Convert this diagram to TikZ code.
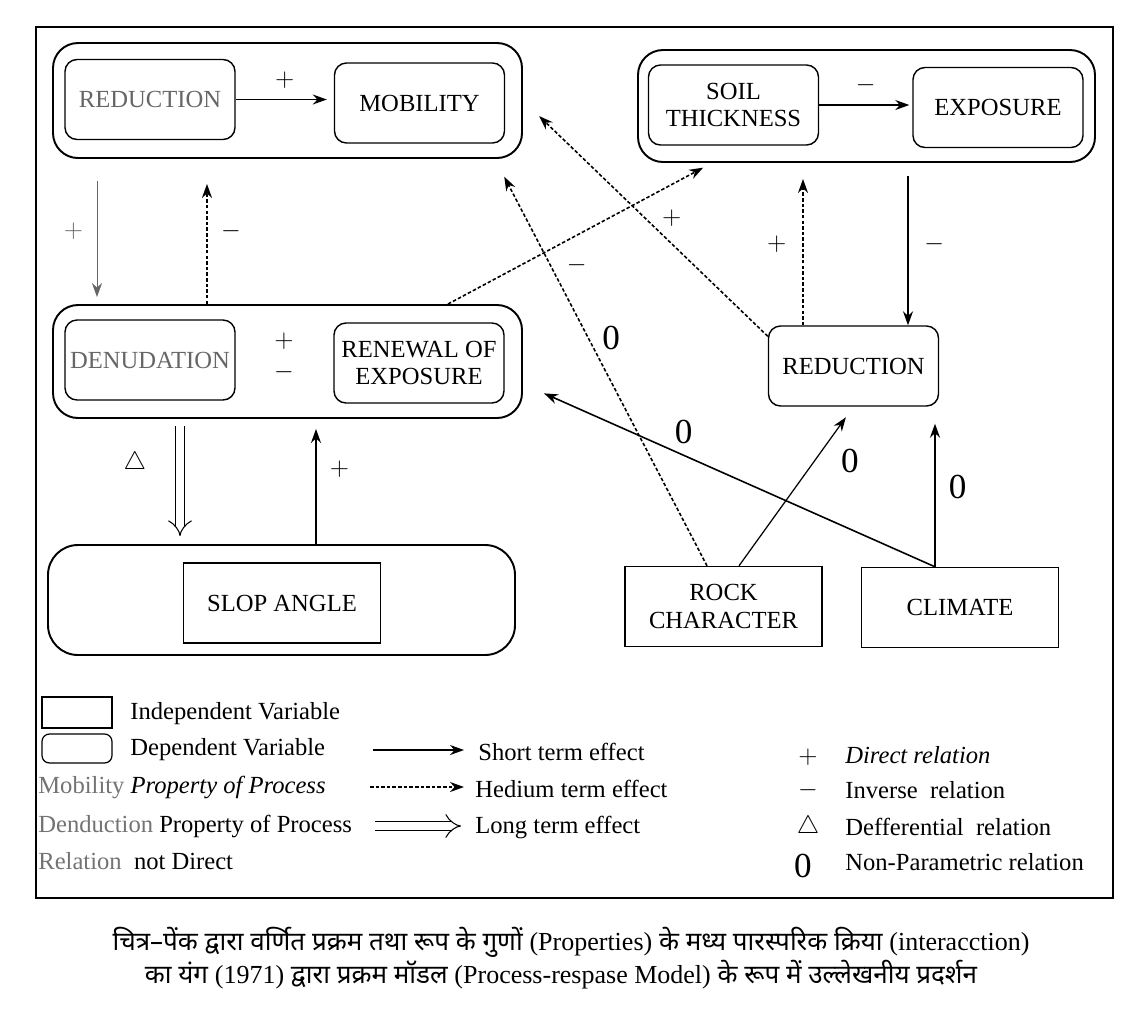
\documentclass[tikz,border=0pt]{standalone}
\usepackage{fontspec}
\setmainfont{Liberation Serif}
\newfontfamily\hindi[Script=Devanagari]{Noto Sans}
\usetikzlibrary{arrows.meta}

\begin{document}
\begin{tikzpicture}[x=0.2mm, y=-0.2mm, font=\fontsize{14}{15.5}\selectfont]
  \useasboundingbox (0,0) rectangle (1137,1008);
  \tikzstyle{group}=[draw, rounded corners=5mm, line width=1.1pt, inner sep=0pt]
  \tikzstyle{var}=[draw, rounded corners=2.4mm, line width=0.8pt, minimum width=34mm, minimum height=16mm, align=center, inner sep=1pt]
  \tikzstyle{indep}=[draw, line width=0.8pt, minimum width=39.4mm, minimum height=16mm, align=center]
  \tikzstyle{faint}=[text=black!60]
  \tikzstyle{shortfx}=[-{Stealth[length=2.8mm,width=2mm]}, line width=0.7pt]
  \tikzstyle{medfx}=[shortfx, dash pattern=on 2pt off 1.2pt, line width=0.9pt]
  \tikzstyle{longfx}=[double, double distance=1.5mm, line width=0.6pt, -{Implies}]
  \tikzstyle{zero}=[font=\fontsize{20}{20}\selectfont]
  \tikzstyle{keytext}=[anchor=west, inner sep=0pt]

  \draw[line width=1pt] (36,27) rectangle (1113,898);  % frame

  % left column
  \node[group, minimum width=93.8mm, minimum height=23mm] (topL) at (287.5,100.5) {};
  \node[var, faint] (redA) at (150,99.5) {REDUCTION};
  \node[var] (mob) at (419.5,103) {MOBILITY};
  \node[group, minimum width=93.8mm, minimum height=22.6mm] (midL) at (287.5,361.5) {};
  \node[var, faint] (den) at (150,360) {DENUDATION};
  \node[var] (ren) at (419,363) {RENEWAL OF\\EXPOSURE};
  \node[inner sep=0pt] (pmPlus) at (284,341) {$+$};
  \node[inner sep=0pt] (pmMinus) at (284,372) {$-$};
  \node[group, rounded corners=6mm, minimum width=93.4mm, minimum height=22mm] (slopeGrp) at (281.5,600) {};
  \node[indep] (slope) at (282,603) {SLOP ANGLE};

  % right column
  \node[group, minimum width=91.4mm, minimum height=22.4mm] (topR) at (866.5,106) {};
  \node[var] (soil) at (733.5,105) {SOIL\\THICKNESS};
  \node[var] (expo) at (998,107.5) {EXPOSURE};
  \node[var] (redB) at (853.5,366) {REDUCTION};
  \node[indep] (rock) at (723.5,606.5) {ROCK\\CHARACTER};
  \node[indep] (clim) at (960,607.5) {CLIMATE};

  \draw[shortfx, shorten >=1.4mm] (redA.east) -- (redA.east -| mob.west) node[midway, above=1mm] {$+$};
  \draw[shortfx, shorten >=0.6mm] (soil.east) -- (soil.east -| expo.west) node[midway, above=1mm] {$-$};

  \draw[shortfx, black!60, line width=0.5pt, shorten <=4.4mm, shorten >=1.4mm] ([xshift=-38.1mm]topL.south) -- ([xshift=-38.1mm]topL.south |- midL.north) node[midway, left=1.5mm] {$+$};
  \draw[medfx, shorten >=5mm] ([xshift=-16.1mm]midL.north) -- ([xshift=-16.1mm]midL.north |- topL.south) node[midway, right=1.5mm] {$-$};
  \draw[longfx, shorten <=1.4mm, shorten >=1.6mm] ([xshift=-21.5mm]midL.south) -- ([xshift=-21.5mm]midL.south |- slopeGrp.north) node[pos=0.35, left=5.5mm] {$\triangle$};
  \draw[shortfx, shorten >=2mm] ([xshift=6.9mm]slopeGrp.north) -- ([xshift=6.9mm]slopeGrp.north |- midL.south) node[pos=0.6, right=1.5mm] {$+$};

  \draw[shortfx, shorten <=2.6mm] ([xshift=8.3mm]topR.south) -- ([xshift=8.3mm]topR.south |- redB.north) node[midway, right=2mm] {$-$};
  \draw[medfx, shorten >=3.2mm] ([xshift=-10.1mm]redB.north) -- ([xshift=-10.1mm]redB.north |- topR.south) node[midway, left=2mm] {$+$};
  \draw[medfx, shorten >=4.5mm] ([yshift=-2.2mm]redB.north west) -- (topL.east) node[midway, right=2mm] {$+$};
  \draw[medfx, shorten >=2mm] ([xshift=32.1mm]midL.north) -- ([xshift=-30.9mm]topR.south);
  \draw[medfx, shorten >=4mm] ([xshift=-3.3mm]rock.north) -- ([xshift=41.5mm]topL.south)
    node[pos=0.74, right=2mm] {$-$} node[pos=0.56, right=1.5mm, zero] {0};

  \draw[shortfx, shorten >=2.6mm] ([xshift=3.1mm]rock.north) -- (redB.south) node[pos=0.66, right=4mm, zero] {0};
  \draw[shortfx, shorten >=3.4mm] ([xshift=-5mm]clim.north) -- ([xshift=-5mm]clim.north |- redB.south) node[midway, right=1.5mm, zero] {0};
  \draw[shortfx, line width=0.9pt, shorten >=4.6mm] ([xshift=-5mm]clim.north) -- ([yshift=-4.5mm]midL.east) node[pos=0.61, above=1mm, zero] {0};

  % legend
  \node[draw, line width=0.7pt, minimum width=14mm, minimum height=6.2mm] (keyInd) at (77,712.5) {};
  \node[draw, rounded corners=1.5mm, line width=0.7pt, minimum width=14mm, minimum height=5.8mm] (keyDep) at (77,748.5) {};
  \node[keytext] (txtInd) at (130,714) {Independent Variable};
  \node[keytext] (txtDep) at (130,750) {Dependent Variable};
  \node[keytext] (txtMob) at (38,787) {\textcolor{black!55}{Mobility} \textit{Property of Process}};
  \node[keytext] (txtDen) at (38,826) {\textcolor{black!55}{Denduction} Property of Process};
  \node[keytext] (txtRel) at (38,861) {\textcolor{black!55}{Relation}\ \ not Direct};

  \coordinate (kS) at (373,750);
  \coordinate (kM) at (370,787);
  \coordinate (kL) at (375,826);
  \node[keytext] (txtS) at (478,752) {Short term effect};
  \node[keytext] (txtM) at (475,789) {Hedium term effect};
  \node[keytext] (txtL) at (475,827) {Long term effect};
  \draw[shortfx, shorten >=2.8mm] (kS) -- (kS -| txtS.west);
  \draw[medfx, shorten >=2.2mm] (kM) -- (kM -| txtM.west);
  \draw[longfx, shorten >=2.8mm] (kL) -- (kL -| txtL.west);

  \node (symP) at (808,757) {$+$};
  \node (symM) at (808,790) {$-$};
  \node (symD) at (808,827) {$\triangle$};
  \node[zero] (symZ) at (803,866) {0};
  \node[keytext] (txtP) at (845,755) {\textit{Direct relation}};
  \node[keytext] (txtN) at (845,790) {Inverse\ \ relation};
  \node[keytext] (txtD) at (845,827) {Defferential\ \ relation};
  \node[keytext] (txtZ) at (845,862) {Non-Parametric relation};

  % caption
  \node[font=\hindi\fontsize{14.8}{17}\selectfont] (cap1) at (571,942) {चित्र–पेंक द्वारा वर्णित प्रक्रम तथा रूप के गुणों {\rmfamily (Properties)} के मध्य पारस्परिक क्रिया {\rmfamily (interacction)}};
  \node[font=\hindi\fontsize{14.8}{17}\selectfont] (cap2) at (561,975) {का यंग {\rmfamily (1971)} द्वारा प्रक्रम मॉडल {\rmfamily (Process-respase Model)} के रूप में उल्लेखनीय प्रदर्शन};
\end{tikzpicture}
\end{document}
